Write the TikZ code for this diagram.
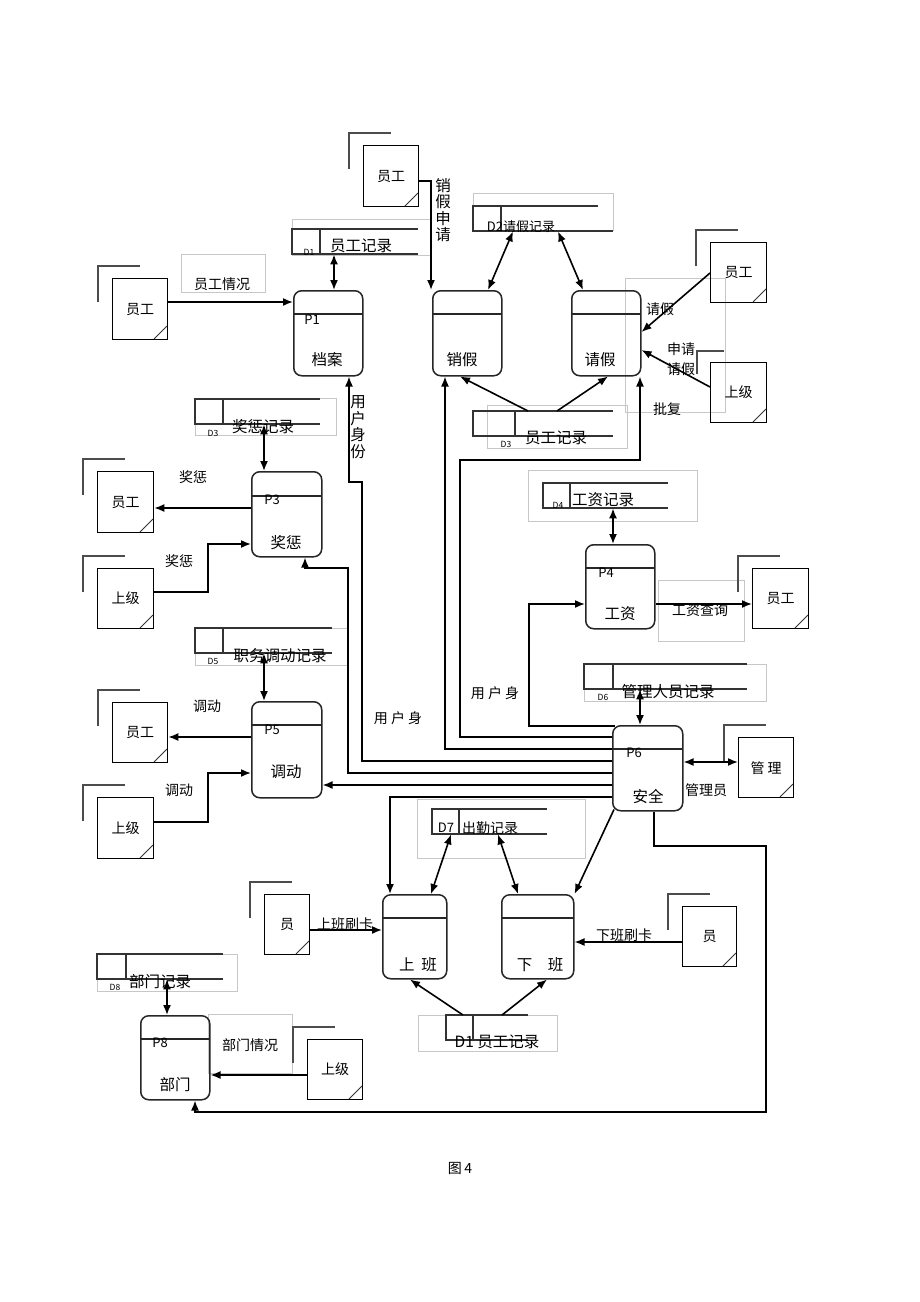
\documentclass[tikz,border=0pt]{standalone}
\usepackage{fontspec}
\setmainfont{Noto Sans CJK SC}
\usetikzlibrary{arrows.meta}
\tikzset{
  procbox/.style={draw=black!85, line width=1.5pt, rounded corners=8pt, inner sep=0pt},
  procline/.style={draw=black!85, line width=1.2pt},
  entbox/.style={draw=black, line width=1.3pt, inner sep=0pt, font=\fontsize{14}{16}\selectfont},
  entshadow/.style={draw=black!70, line width=1.4pt},
  entcorner/.style={draw=black!80, line width=1pt},
  storeline/.style={draw=black!80, line width=1.2pt},
  graybox/.style={draw=black!22, line width=0.5pt},
  conn/.style={draw=black, line width=1.6pt},
  arr/.style={conn, -{Latex[length=10pt,width=8pt]}},
  dbl/.style={conn, {Latex[length=10pt,width=8pt]}-{Latex[length=10pt,width=8pt]}},
  lbl/.style={inner sep=0pt, font=\fontsize{14}{15}\selectfont},
  big/.style={inner sep=0pt, font=\fontsize{15.5}{17}\selectfont},
  pl/.style={inner sep=0pt, font=\fontsize{13}{14}\selectfont},
  dl/.style={inner sep=0pt, font=\fontsize{8.5}{9}\selectfont},
  vert/.style={inner sep=0pt, align=center, font=\fontsize{15.5}{16.6}\selectfont},
}
\newcommand\myproc[6]{%
  \node[procbox, anchor=north west, minimum width=#4, minimum height=#5] (#1) at (#2,#3) {};
  \draw[procline] (#2,#3+#6) -- (#2+#4,#3+#6);}
\newcommand\myent[6]{%
  \node[entbox, anchor=north west, minimum width={#4-#2}, minimum height={#5-#3}] (#1) at (#2,#3) {#6};
  \draw[entshadow] (#2-14,#3+24) -- (#2-14,#3-12) -- (#2+28,#3-12);
  \draw[entcorner] (#4-13,#5) -- (#4,#5-13);}
\newcommand\mystore[6]{%
  \node[inner sep=0pt, anchor=north west, minimum width={#5-#2}, minimum height=25] (#1) at (#2,#3) {};
  \draw[storeline] (#5,#3) -- (#2,#3) -- (#2,#3+25) -- (#6,#3+25);
  \draw[storeline] (#4,#3) -- (#4,#3+25);}
\begin{document}
\begin{tikzpicture}[x=1pt,y=-1pt]
\fill[white] (0,0) rectangle (920,1302);
\useasboundingbox (0,0) rectangle (920,1302);

% gray text boxes
\draw[graybox] (181,254) rectangle (265,292);
\draw[graybox] (292,219) rectangle (430,255);
\draw[graybox] (473,193) rectangle (613,230);
\draw[graybox] (487,405) rectangle (627,448);
\draw[graybox] (625,278) rectangle (725,412);
\draw[graybox] (195,398) rectangle (336,435);
\draw[graybox] (528,470) rectangle (697,521);
\draw[graybox] (658,580) rectangle (744,641);
\draw[graybox] (195,628) rectangle (348,665);
\draw[graybox] (584,664) rectangle (766,701);
\draw[graybox] (417,799) rectangle (585,858);
\draw[graybox] (97,954) rectangle (237,991);
\draw[graybox] (418,1015) rectangle (557,1051);
\draw[graybox] (208,1014) rectangle (292,1073);

% processes
\myproc{p1}{293}{290}{69}{85}{24}
\myproc{pxj}{432}{290}{69}{85}{24}
\myproc{pqj}{571}{290}{69}{85}{24}
\myproc{p3}{251}{471}{70}{85}{25}
\myproc{p4}{585}{544}{69}{84}{24}
\myproc{p5}{251}{701}{70}{96}{24}
\myproc{p6}{612}{725}{70}{85}{24}
\myproc{psb}{382}{894}{64}{84}{24}
\myproc{pxb}{501}{894}{72}{84}{24}
\myproc{p8}{140}{1015}{69}{84}{24}

% process texts
\node[pl] (t1) at (312,320) {P1};
\node[big] (t2) at (327,360) {档案};
\node[big] (t3) at (462,360) {销假};
\node[big] (t4) at (600,360) {请假};
\node[pl] (t5) at (272,500) {P3};
\node[big] (t6) at (286,543) {奖惩};
\node[pl] (t7) at (606,573) {P4};
\node[big] (t8) at (620,614) {工资};
\node[pl] (t9) at (272,730) {P5};
\node[big] (t10) at (286,772) {调动};
\node[pl] (t11) at (634,753) {P6};
\node[big] (t12) at (648,796) {安全};
\node[big] (t13) at (418,965) {上\ \ 班};
\node[big] (t14) at (540,965) {下\quad 班};
\node[pl] (t15) at (160,1043) {P8};
\node[big] (t16) at (175,1085) {部门};

% entities
\myent{e1}{363}{145}{418}{206}{员工}
\myent{e2}{112}{278}{167}{339}{员工}
\myent{e3}{710}{242}{766}{302}{员工}
\node[entbox, anchor=north west, minimum width=56, minimum height=60] (e4) at (710,362) {上级};
\draw[entshadow] (697,374) -- (697,351) -- (724,351);
\draw[entcorner] (753,422) -- (766,409);
\myent{e5}{97}{471}{153}{532}{员工}
\myent{e6}{97}{568}{153}{628}{上级}
\myent{e7}{112}{702}{167}{762}{员工}
\myent{e8}{97}{797}{153}{858}{上级}
\myent{e9}{752}{568}{808}{628}{员工}
\myent{e10}{738}{737}{793}{797}{管\ 理}
\myent{e11}{264}{894}{309}{954}{员}
\myent{e12}{682}{906}{736}{966}{员}
\myent{e13}{307}{1039}{362}{1099}{上级}

% data stores
\mystore{d1a}{292}{229}{320}{418}{418}
\mystore{d2}{473}{206}{501}{598}{613}
\mystore{d3a}{473}{411}{515}{613}{613}
\mystore{d3b}{195}{399}{223}{320}{320}
\mystore{d4}{543}{483}{570}{668}{668}
\mystore{d5}{195}{628}{223}{332}{332}
\mystore{d6}{584}{664}{613}{747}{747}
\mystore{d7}{432}{809}{459}{547}{547}
\mystore{d8}{97}{954}{126}{223}{223}
\mystore{d1b}{446}{1015}{473}{528}{528}

% store texts
\node[dl] (s1) at (309,252) {D1};
\node[big] (s2) at (361,246) {员工记录};
\node[inner sep=0pt, font=\fontsize{13}{14}\selectfont] (s3) at (521,227) {D2请假记录};
\node[dl] (s4) at (506,444) {D3};
\node[big] (s5) at (556,438) {员工记录};
\node[dl] (s6) at (213,433) {D3};
\node[big] (s7) at (263,427) {奖惩记录};
\node[dl] (s8) at (558,505) {D4};
\node[big] (s9) at (603,500) {工资记录};
\node[dl] (s10) at (213,661) {D5};
\node[big] (s11) at (280,656) {职务调动记录};
\node[dl] (s12) at (603,697) {D6};
\node[big] (s13) at (668,692) {管理人员记录};
\node[pl] (s14) at (446,828) {D7};
\node[lbl] (s15) at (490,828) {出勤记录};
\node[dl] (s16) at (115,987) {D8};
\node[big] (s17) at (160,982) {部门记录};
\node[big] (s18) at (497,1042) {D1 员工记录};

% flow labels
\node[lbl] (l1) at (222,284) {员工情况};
\node[vert] (l2) at (443,210) {销\\假\\申\\请};
\node[vert] (l3) at (358,427) {用\\户\\身\\份};
\node[lbl] (l4) at (660,309) {请假};
\node[lbl] (l5) at (681,349) {申请};
\node[lbl] (l6) at (681,369) {请假};
\node[lbl] (l7) at (667,409) {批复};
\node[lbl] (l8) at (193,477) {奖惩};
\node[lbl] (l9) at (179,561) {奖惩};
\node[lbl] (l10) at (700,610) {工资查询};
\node[lbl] (l11) at (207,706) {调动};
\node[lbl] (l12) at (179,790) {调动};
\node[lbl] (l13) at (398,718) {用\ 户\ 身};
\node[lbl] (l14) at (495,693) {用\ 户\ 身};
\node[lbl] (l15) at (706,790) {管理员};
\node[lbl] (l16) at (345,924) {上班刷卡};
\node[lbl] (l17) at (624,935) {下班刷卡};
\node[lbl] (l18) at (250,1045) {部门情况};
\node[lbl] (l19) at (460,1168) {图\,4};

% connectors
\draw[arr] (e2.east |- 0,302) -- (p1.west |- 0,302);
\draw[dbl] (d1a.south -| 334,0) -- (p1.north -| 334,0);
\draw[arr] (e1.east |- 0,181) -| (pxj.north -| 431,0);
\draw[dbl] (d2.south -| 513,0) -- (pxj.north -| 488,0);
\draw[dbl] (d2.south -| 558,0) -- (pqj.north -| 583,0);
\draw[arr] (e3.west |- 0,273) -- (pqj.east |- 0,332);
\draw[arr] (e4.west |- 0,387) -- (pqj.east |- 0,350);
\draw[arr] (d3a.north -| 528,0) -- (pxj.south -| 460,0);
\draw[arr] (d3a.north -| 557,0) -- (pqj.south -| 608,0);
\draw[arr] (p6.west |- 0,737) -| (460,460) -| (pqj.south -| 640,0);
\draw[arr] (p6.west |- 0,749) -| (pxj.south -| 445,0);
\draw[arr] (p6.west |- 0,761) -| (362,482) -| (p1.south -| 349,0);
\draw[arr] (p6.west |- 0,773) -| (348,568) -| (p3.south -| 305,0);
\draw[arr] (p6.west |- 0,785) -- (p5.east |- 0,785);
\draw[arr] (p6.north west) ++(3,1) -| (529,604) -- (p4.west |- 0,604);
\draw[dbl] (d6.south -| 640,0) -- (p6.north -| 640,0);
\draw[dbl] (d4.south -| 613,0) -- (p4.north -| 613,0);
\draw[arr] (p4.east |- 0,604) -- (e9.west |- 0,604);
\draw[dbl] (p6.east |- 0,762) -- (e10.west |- 0,762);
\draw[arr] (p6.west |- 0,797) -| (psb.north -| 390,0);
\draw[arr] (p6.south west) ++(2,-2) -- (pxb.north east);
\draw[dbl] (d7.south -| 451,0) -- (psb.north -| 431,0);
\draw[dbl] (d7.south -| 498,0) -- (pxb.north -| 518,0);
\draw[arr] (e11.east |- 0,930) -- (psb.west |- 0,930);
\draw[arr] (e12.west |- 0,942) -- (pxb.east |- 0,942);
\draw[arr] (d1b.north -| 463,0) -- (psb.south -| 410,0);
\draw[arr] (d1b.north -| 502,0) -- (pxb.south -| 547,0);
\draw[dbl] (d8.south -| 167,0) -- (p8.north -| 167,0);
\draw[arr] (e13.west |- 0,1075) -- (p8.east |- 0,1075);
\draw[arr] (p6.south -| 654,0) |- (766,846) |- (195,1112) -- (p8.south -| 195,0);
\draw[dbl] (d3b.south -| 264,0) -- (p3.north -| 264,0);
\draw[arr] (p3.west |- 0,508) -- (e5.east |- 0,508);
\draw[arr] (e6.east |- 0,592) -| (208,544) -- (p3.west |- 0,544);
\draw[dbl] (d5.south -| 264,0) -- (p5.north -| 264,0);
\draw[arr] (p5.west |- 0,737) -- (e7.east |- 0,737);
\draw[arr] (e8.east |- 0,822) -| (208,773) -- (p5.west |- 0,773);
\end{tikzpicture}
\end{document}
